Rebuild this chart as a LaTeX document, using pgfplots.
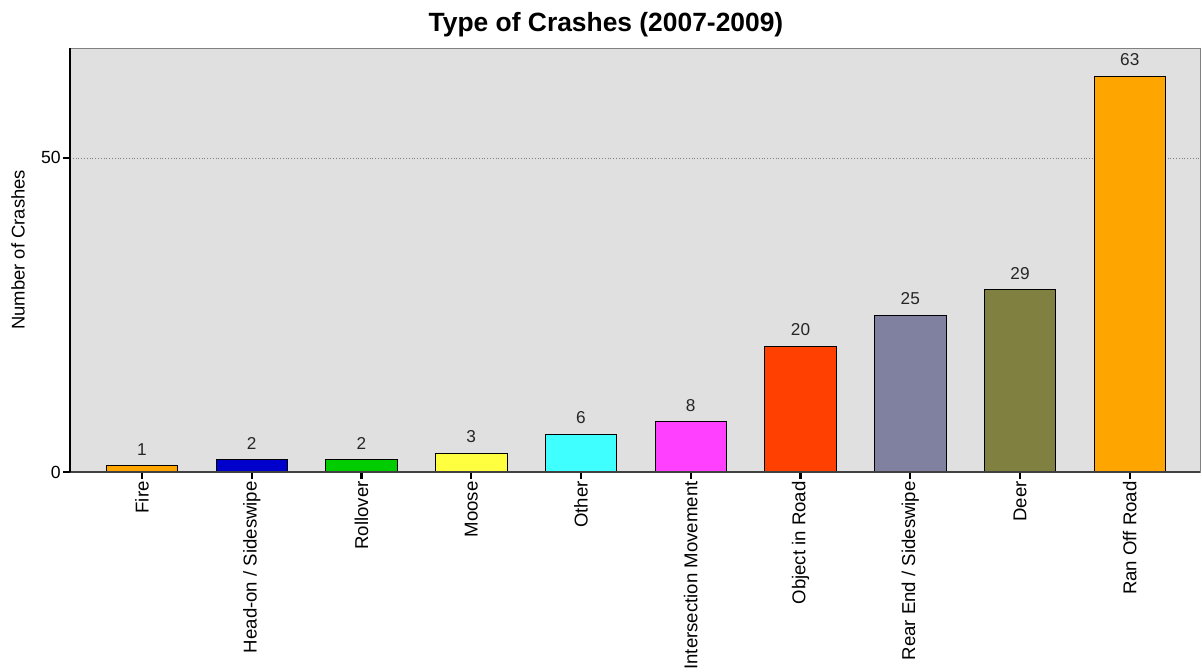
\documentclass[border=0pt]{standalone}
\usepackage{pgfplots}
\pgfplotsset{compat=1.18}
\usepackage{fontspec}
\setmainfont{Liberation Sans}
\definecolor{cFire}{HTML}{FFA500}
\definecolor{cHead}{HTML}{0000CC}
\definecolor{cRoll}{HTML}{00CC00}
\definecolor{cMoose}{HTML}{FFFF40}
\definecolor{cOther}{HTML}{40FFFF}
\definecolor{cInter}{HTML}{FF40FF}
\definecolor{cObj}{HTML}{FF4000}
\definecolor{cRear}{HTML}{8080A0}
\definecolor{cDeer}{HTML}{808040}
\definecolor{cRan}{HTML}{FFA500}
\definecolor{bggray}{HTML}{E0E0E0}
\begin{document}
\begin{tikzpicture}
\path[use as bounding box] (0,0) rectangle (601pt,335.5pt);
\node[font=\bfseries\fontsize{13.2}{15}\selectfont] at (303pt,323pt) {Type of Crashes (2007-2009)};
\begin{axis}[
  at={(35pt,99.5pt)}, anchor=south west,
  scale only axis, width=565pt, height=212pt,
  xmin=-0.656, xmax=9.64, ymin=0, ymax=67.5,
  ybar, bar width=0.65, bar shift=0pt,
  axis background/.style={fill=bggray},
  axis line style={draw=gray, line width=0.5pt},
  xtick={0,...,9},
  xtick pos=bottom, ytick pos=left,
  xticklabels={Fire,Head-on / Sideswipe,Rollover,Moose,Other,Intersection Movement,Object in Road,Rear End / Sideswipe,Deer,Ran Off Road},
  xticklabel style={rotate=90, anchor=east, inner sep=1pt, font=\fontsize{9.3}{10}\selectfont},
  ytick={0,50},
  yticklabel style={inner sep=1pt, font=\fontsize{8.8}{10}\selectfont},
  /pgf/number format/assume math mode=true,
  tick align=outside, major tick length=3.5pt,
  xtick style={line width=1.1pt, black},
  ytick style={line width=0.6pt, black},
  ymajorgrids, major grid style={densely dotted, gray, line width=0.4pt},
  ylabel={Number of Crashes},
  ylabel style={at={(axis description cs:-0.046,0.524)}, anchor=center, font=\fontsize{9.2}{10}\selectfont},
  nodes near coords,
  every node near coord/.append style={anchor=south, inner sep=0pt, yshift=5pt, font=\fontsize{8.6}{10}\selectfont, text=black!85},
  after end axis/.code={
    \draw[black!75, line width=0.8pt] (rel axis cs:0,0) -- (rel axis cs:1,0);
    \draw[black, line width=1pt] (rel axis cs:0,0) -- (rel axis cs:0,1);
  },
]
\addplot[draw=black, fill=cFire] coordinates {(0,1)};
\addplot[draw=black, fill=cHead] coordinates {(1,2)};
\addplot[draw=black, fill=cRoll] coordinates {(2,2)};
\addplot[draw=black, fill=cMoose] coordinates {(3,3)};
\addplot[draw=black, fill=cOther] coordinates {(4,6)};
\addplot[draw=black, fill=cInter] coordinates {(5,8)};
\addplot[draw=black, fill=cObj] coordinates {(6,20)};
\addplot[draw=black, fill=cRear] coordinates {(7,25)};
\addplot[draw=black, fill=cDeer] coordinates {(8,29)};
\addplot[draw=black, fill=cRan] coordinates {(9,63)};
\end{axis}
\end{tikzpicture}
\end{document}
